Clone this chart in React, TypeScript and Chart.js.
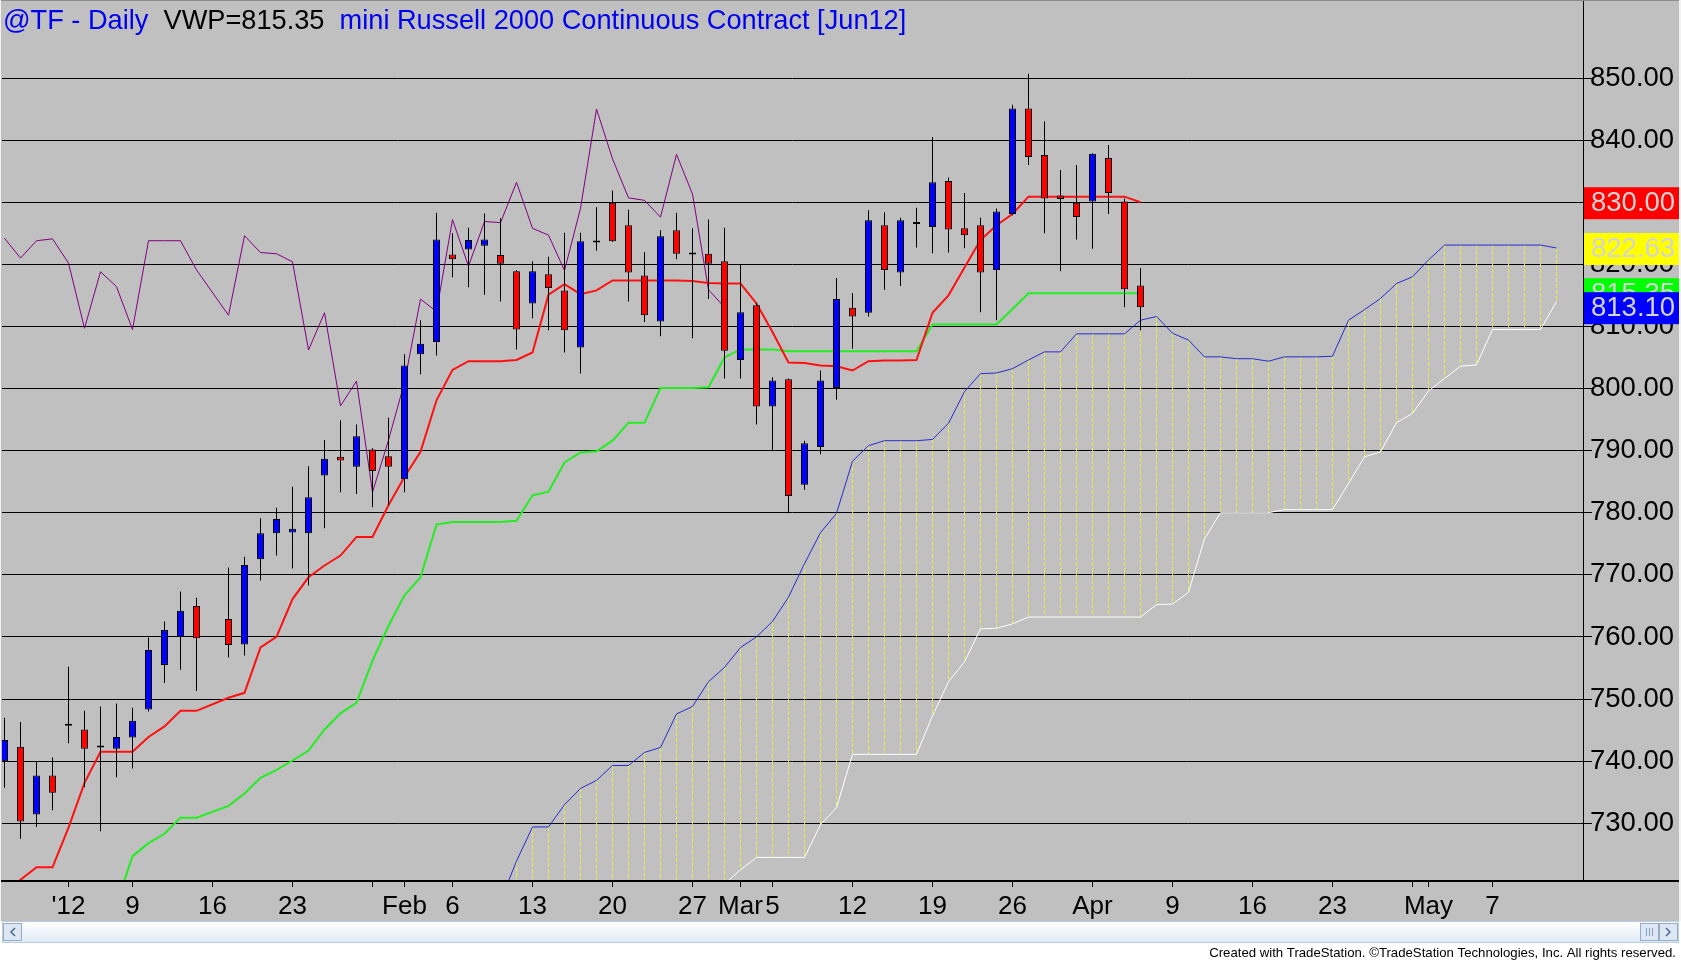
import { useEffect, useRef } from "react";
import Chart from "chart.js/auto";

// daily bars from Dec 27 2011 to Apr 5 2012, one slot per weekday (slot 13 = Jan 16, no bar)
const opens = [
  740.0, 742.3, 731.4, 737.7, 745.7, 745.1, 742.2, 742.0, 743.8, 748.3, 755.5, 760.0, 765.0,
  null,
  762.9, 758.8, 772.5, 776.7, 776.8, 776.7, 786.0, 789.0, 787.4, 790.2, 789.1, 785.4, 805.5, 807.5, 821.6,
  822.4, 823.0, 821.5, 818.9, 813.7, 818.4, 815.8, 806.6, 823.5, 829.9, 826.3, 818.2, 810.8, 825.5, 821.6,
  821.7, 820.5, 804.6, 813.4, 797.1, 801.5, 784.5, 790.6, 800.1, 813.0, 812.2, 826.3, 818.7, 826.5, 826.0,
  833.4, 825.8, 826.3, 819.1, 828.1, 845.1, 837.6, 831.1, 829.9, 830.1, 837.1, 830.1, 816.6,
];
const highs = [
  747.0, 746.3, 740.0, 740.6, 755.2, 748.1, 748.8, 749.3, 748.6, 759.9, 762.5, 767.3, 766.3,
  null,
  771.2, 772.9, 779.1, 780.8, 784.2, 787.5, 791.7, 794.9, 794.2, 790.4, 795.3, 805.5, 811.0, 828.3, 825.0,
  825.9, 828.2, 827.4, 819.1, 820.5, 821.2, 825.1, 825.1, 829.2, 831.9, 828.8, 822.0, 825.5, 828.3, 825.8,
  827.2, 825.9, 820.0, 813.8, 801.8, 801.6, 791.6, 802.9, 817.8, 815.4, 828.7, 828.4, 827.5, 829.1, 840.5,
  834.0, 831.5, 827.5, 829.0, 845.7, 850.7, 843.0, 835.2, 836.0, 837.9, 839.2, 830.6, 819.4,
];
const lows = [
  735.7, 727.5, 729.4, 732.1, 742.9, 735.8, 728.7, 737.4, 738.8, 748.0, 752.6, 754.7, 751.3,
  null,
  756.7, 757.0, 769.1, 773.1, 771.0, 768.3, 777.5, 783.3, 783.0, 780.9, 781.2, 783.3, 802.3, 805.3, 817.9,
  816.3, 815.1, 814.0, 806.3, 811.3, 809.4, 805.8, 802.4, 822.2, 823.6, 814.0, 810.7, 808.4, 820.8, 808.1,
  814.4, 801.6, 801.6, 794.2, 789.9, 779.9, 783.7, 789.4, 798.2, 806.4, 811.6, 815.9, 816.5, 822.7, 821.8,
  821.9, 822.6, 812.3, 811.0, 827.9, 836.0, 825.0, 818.9, 824.0, 822.5, 828.1, 813.1, 809.4,
];
const closes = [
  743.4, 730.3, 737.7, 734.9, 745.7, 742.0, 742.2, 743.9, 746.5, 757.9, 761.1, 764.2, 759.8,
  null,
  758.7, 771.6, 776.7, 779.0, 777.4, 782.5, 788.7, 788.4, 792.3, 786.7, 787.4, 803.7, 807.2, 824.0, 820.8,
  823.9, 824.0, 820.1, 809.5, 818.9, 816.2, 809.4, 823.7, 823.7, 823.7, 818.7, 811.8, 824.5, 821.7, 821.6,
  820.1, 806.1, 812.3, 797.1, 801.3, 782.7, 791.2, 801.3, 814.4, 811.6, 827.1, 819.1, 827.1, 826.5, 833.2,
  825.6, 824.7, 818.7, 828.5, 845.1, 837.3, 830.6, 830.5, 827.6, 837.8, 831.5, 816.0, 813.10,
];

// Ichimoku lines
const tenkan = [
  719.0, 720.9, 722.9, 722.9, 729.3, 736.5, 741.5, 741.5, 741.5, 743.9, 745.6, 748.1, 748.1,
  null,
  750.2, 751.0, 758.3, 760.0, 766.1, 769.6, 771.5, 773.1, 776.1, 776.1, 781.2, 785.8, 789.8, 798.1, 803.0,
  804.4, 804.4, 804.4, 804.6, 805.8, 815.1, 816.8, 815.2, 815.8, 817.4, 817.4, 817.4, 817.4, 817.4, 817.3,
  817.0, 816.9, 816.9, 813.7, 809.1, 804.2, 804.1, 803.7, 803.6, 802.9, 804.4, 804.5, 804.5, 804.6, 812.2,
  815.0, 819.5, 823.9, 826.3, 828.1, 830.9, 830.9, 830.9, 830.9, 830.9, 830.9, 830.9, 830.0,
];
const kijun = [
  null, null, null, null, null, null, null, 717.0, 724.7, 726.8, 728.3, 730.9, 730.9,
  null,
  732.8, 734.8, 737.3, 738.6, 740.1, 741.7, 745.1, 747.7, 749.4, 756.2, 761.8, 766.7, 769.6, 778.1, 778.5,
  778.5, 778.5, 778.5, 778.7, 782.8, 783.4, 788.1, 789.7, 789.9, 791.6, 794.5, 794.5, 800.1, 800.1, 800.1,
  800.2, 805.0, 806.3, 806.3, 806.3, 806.0, 806.0, 806.0, 806.0, 806.0, 806.0, 806.0, 806.0, 806.0, 810.3,
  810.3, 810.3, 810.3, 810.3, 812.8, 815.35, 815.35, 815.35, 815.35, 815.35, 815.35, 815.35, 815.35,
];
const chikou = [
  824.2, 821.0, 823.8, 824.1, 820.2, 809.7, 818.8, 816.4, 809.5, 823.8, 823.8, 823.8, 819.1,
  null,
  811.8, 824.6, 821.9, 821.7, 820.4, 806.2, 812.2, 797.2, 801.2, 783.3, 791.7, 801.0, 814.4, 812.4, 827.2,
  819.7, 826.9, 826.7, 833.2, 825.8, 824.7, 819.0, 829.0, 845.0, 837.0, 830.7, 830.3, 827.6, 837.7, 831.3,
  815.9, 813.1,
];
const senkouA = [
  ...Array(31).fill(null),
  717.5, 723.9, 729.4, 729.4, 733.0, 735.6, 736.9, 739.3, 739.3, 741.4,
  742.2, 747.6, 748.8, 752.8, 755.1, 758.3, 760.0, 762.5, 766.4, 771.8,
  776.8, 779.9, 788.3, 790.8, 791.6, 791.6, 791.6, 791.8, 794.4, 799.5,
  802.4, 802.5, 803.2, 804.6, 805.9, 805.9, 808.8, 808.8, 808.8, 808.8,
  811.0, 811.6, 808.9, 807.8, 805.1, 805.1, 804.8, 804.8, 804.4, 805.1,
  805.1, 805.1, 805.2, 811.0, 812.7, 814.5, 816.9, 818.0, 820.7, 823.1,
  823.1, 823.1, 823.1, 823.1, 823.1, 823.1, 822.63,
];
const senkouB = [
  ...Array(45).fill(null),
  720.2, 722.5, 724.5, 724.5, 724.5,
  724.5, 729.8, 732.5, 741.1, 741.1, 741.1, 741.1, 741.1, 747.3, 752.8,
  756.0, 761.3, 761.4, 762.1, 763.2, 763.2, 763.2, 763.2, 763.2, 763.2,
  763.2, 763.2, 765.2, 765.3, 767.2, 775.8, 780.0, 780.0, 780.0, 780.0,
  780.5, 780.5, 780.5, 780.5, 784.7, 789.0, 789.8, 794.5, 796.0, 799.6,
  801.6, 803.6, 803.8, 809.5, 809.5, 809.5, 809.5, 814.0,
];

const xTickPos = [4, 8, 13, 18, 23, 25, 28, 33, 38, 43, 46, 48, 53, 58, 63, 68, 73, 78, 83, 88, 89, 93];
const xTickText = ["'12", "9", "16", "23", "", "Feb", "6", "13", "20", "27", "Mar", "5", "12", "19", "26", "Apr", "9", "16", "23", "", "May", "7"];
const yTicks = [730, 740, 750, 760, 770, 780, 790, 800, 810, 820, 830, 840, 850];

const titleParts: [string, string][] = [
  ["@TF - Daily", "#0000f0"],
  ["VWP=815.35", "#000000"],
  ["mini Russell 2000 Continuous Contract [Jun12]", "#0000f0"],
];
const credit = "Created with TradeStation. \u00a9TradeStation Technologies, Inc. All rights reserved.";

const FONT = "'Liberation Sans', Arial, sans-serif";
const BG = "#c0c0c0";

function toPoints(arr: (number | null)[]) {
  return arr.flatMap((v, i) => (v == null ? [] : [{ x: i, y: v }]));
}

const lastOf = (arr: (number | null)[]) => arr[arr.length - 1] as number;

const decor = {
  id: "decor",
  beforeDraw(chart: any) {
    const { ctx, width, height } = chart;
    ctx.save();
    ctx.fillStyle = BG;
    ctx.fillRect(0, 0, width, 921);
    ctx.fillStyle = "#ffffff";
    ctx.fillRect(0, 921, width, height - 921);
    ctx.restore();
  },
  beforeDatasetsDraw(chart: any) {
    // cloud: dashed yellow verticals from span A to span B
    const { ctx, chartArea: ca, scales } = chart;
    const x = scales.x, y = scales.y;
    ctx.save();
    ctx.beginPath();
    ctx.rect(ca.left, ca.top, ca.right - ca.left, ca.bottom - ca.top);
    ctx.clip();
    ctx.strokeStyle = "#ecec48";
    ctx.lineWidth = 1;
    ctx.setLineDash([4, 2]);
    senkouA.forEach((a, i) => {
      if (a == null) return;
      const b = senkouB[i];
      const px = Math.floor(x.getPixelForValue(i)) + 0.5;
      ctx.beginPath();
      ctx.moveTo(px, y.getPixelForValue(a));
      ctx.lineTo(px, b == null ? ca.bottom : y.getPixelForValue(b));
      ctx.stroke();
    });
    ctx.restore();
  },
  afterDraw(chart: any) {
    const { ctx, chartArea: ca, scales, width } = chart;
    const y = scales.y;
    ctx.save();
    // frame lines
    ctx.fillStyle = "#000000";
    ctx.fillRect(0, ca.bottom, width - 2, 2);
    ctx.fillRect(ca.right, 0, 1, ca.bottom);
    ctx.fillStyle = "#8a8a8a";
    ctx.fillRect(0, 0, width, 1);
    ctx.fillStyle = "#f2f2f2";
    ctx.fillRect(0, 0, 1, 921);
    ctx.fillRect(width - 2, 0, 2, 921);

    // last-value boxes on the price axis
    const boxes = [
      { v: lastOf(tenkan), bg: "#ff0000" },
      { v: lastOf(senkouA), bg: "#ffff00" },
      { v: lastOf(kijun), bg: "#00ff00" },
      { v: lastOf(closes), bg: "#0000ff" },
    ];
    ctx.font = `27.5px ${FONT}`;
    ctx.textBaseline = "middle";
    ctx.textAlign = "left";
    boxes.forEach((b) => {
      const py = y.getPixelForValue(b.v);
      ctx.fillStyle = b.bg;
      ctx.fillRect(ca.right + 1, py - 15, width - ca.right - 3, 32);
      ctx.fillStyle = "#d4d4d4";
      ctx.fillText(b.v.toFixed(2), ca.right + 8, py + 1);
    });

    // title
    ctx.font = `27.2px ${FONT}`;
    ctx.textBaseline = "alphabetic";
    let tx = 3;
    titleParts.forEach(([t, c]) => {
      ctx.fillStyle = c;
      ctx.fillText(t, tx, 29);
      tx += ctx.measureText(t + "  ").width;
    });

    // scrollbar
    const sy = 921, sh = 22;
    const g = ctx.createLinearGradient(0, sy, 0, sy + sh);
    g.addColorStop(0, "#ffffff");
    g.addColorStop(1, "#dfeaf6");
    ctx.fillStyle = g;
    ctx.fillRect(2, sy, width - 4, sh);
    ctx.strokeStyle = "#b8cbe0";
    ctx.lineWidth = 1;
    ctx.strokeRect(2.5, sy + 0.5, width - 5, sh - 1);
    const btn = (bx: number) => {
      ctx.fillStyle = "#dce7f3";
      ctx.fillRect(bx, sy + 2, 19, sh - 4);
      ctx.strokeStyle = "#93acc8";
      ctx.strokeRect(bx + 0.5, sy + 2.5, 18, sh - 5);
    };
    btn(3);
    btn(width - 41);
    btn(width - 22);
    ctx.strokeStyle = "#4a6a90";
    ctx.lineWidth = 1.5;
    ctx.beginPath();
    ctx.moveTo(15, sy + 7);
    ctx.lineTo(11, sy + 11);
    ctx.lineTo(15, sy + 15);
    ctx.moveTo(width - 15, sy + 7);
    ctx.lineTo(width - 11, sy + 11);
    ctx.lineTo(width - 15, sy + 15);
    ctx.stroke();
    ctx.lineWidth = 1;
    ctx.strokeStyle = "#8aa2be";
    [-35, -32, -29].forEach((d) => {
      ctx.beginPath();
      ctx.moveTo(width + d + 0.5, sy + 7);
      ctx.lineTo(width + d + 0.5, sy + 15);
      ctx.stroke();
    });

    // credit
    ctx.font = `13.2px ${FONT}`;
    ctx.fillStyle = "#000000";
    ctx.textAlign = "right";
    ctx.fillText(credit, width - 5, 957);
    ctx.restore();
  },
};

export default function App() {
  const canvasRef = useRef<HTMLCanvasElement>(null);

  useEffect(() => {
    document.body.style.margin = "0";
    if (!canvasRef.current) return;

    Chart.defaults.font.family = FONT;

    const idx = opens.flatMap((o, i) => (o == null ? [] : [i]));
    const bodyColors = idx.map((i) => {
      const o = opens[i] as number, c = closes[i] as number;
      return c > o ? "#0000ff" : c < o ? "#ff0000" : "#000000";
    });

    const chart = new Chart(canvasRef.current, {
      type: "line",
      data: {
        datasets: [
          {
            type: "bar",
            label: "body",
            data: idx.map((i) => ({ x: i, y: [opens[i], closes[i]] })) as any,
            backgroundColor: bodyColors,
            borderColor: "#000000",
            borderWidth: 1,
            borderSkipped: false,
            barThickness: 7,
            minBarLength: 2,
            grouped: false,
            inflateAmount: 0,
            order: 0,
          } as any,
          {
            type: "bar",
            label: "wick",
            data: idx.map((i) => ({ x: i, y: [lows[i], highs[i]] })) as any,
            backgroundColor: "#000000",
            borderWidth: 0,
            barThickness: 1,
            grouped: false,
            inflateAmount: 0,
            order: 1,
          } as any,
          {
            label: "Tenkan",
            data: toPoints(tenkan),
            borderColor: "#ff1010",
            borderWidth: 2,
            pointRadius: 0,
            order: 2,
          },
          {
            label: "Kijun",
            data: toPoints(kijun),
            borderColor: "#22ee22",
            borderWidth: 2,
            pointRadius: 0,
            order: 3,
          },
          {
            label: "Chikou",
            data: toPoints(chikou),
            borderColor: "#800080",
            borderWidth: 1,
            pointRadius: 0,
            order: 4,
          },
          {
            label: "Senkou A",
            data: toPoints(senkouA),
            borderColor: "#2a2ad0",
            borderWidth: 1,
            pointRadius: 0,
            order: 5,
          },
          {
            label: "Senkou B",
            data: toPoints(senkouB),
            borderColor: "#ffffff",
            borderWidth: 1,
            pointRadius: 0,
            order: 6,
          },
        ],
      },
      options: {
        responsive: false,
        maintainAspectRatio: false,
        devicePixelRatio: 1,
        animation: false,
        events: [],
        layout: { autoPadding: false, padding: { left: 2, top: 2, right: 0, bottom: 40 } },
        plugins: { legend: { display: false }, tooltip: { enabled: false } },
        scales: {
          x: {
            type: "linear",
            min: -0.15625,
            max: 98.65625,
            offset: false,
            afterFit: (s: any) => {
              s.height = 41;
              s.paddingLeft = 0;
              s.paddingRight = 0;
            },
            afterBuildTicks: (s: any) => {
              s.ticks = xTickPos.map((v) => ({ value: v }));
            },
            grid: { drawOnChartArea: false, drawTicks: true, tickLength: 7, color: "#000000", offset: false },
            border: { display: false },
            ticks: {
              autoSkip: false,
              maxRotation: 0,
              minRotation: 0,
              padding: 4,
              color: "#000000",
              font: { size: 26 },
              callback: (_v: any, i: number) => xTickText[i],
            },
          },
          y: {
            type: "linear",
            position: "right",
            min: 720.86,
            max: 862.24,
            beginAtZero: false,
            afterFit: (s: any) => {
              s.width = 98;
              s.paddingTop = 0;
              s.paddingBottom = 0;
            },
            afterBuildTicks: (s: any) => {
              s.ticks = yTicks.map((v) => ({ value: v }));
            },
            grid: { color: "#000000", lineWidth: 1, tickLength: 9 },
            border: { display: false },
            ticks: {
              padding: -2,
              color: "#000000",
              font: { size: 27.5 },
              callback: (v: any) => Number(v).toFixed(2),
            },
          },
        },
      },
      plugins: [decor],
    });

    return () => chart.destroy();
  }, []);

  return <canvas ref={canvasRef} width={1681} height={961} style={{ display: "block" }} />;
}
